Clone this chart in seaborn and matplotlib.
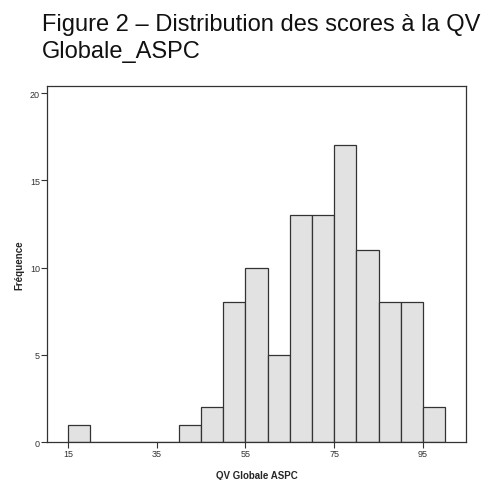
import numpy as np
import pandas as pd
import matplotlib
matplotlib.use("Agg")
import matplotlib.pyplot as plt
import seaborn as sns

# histogram: bin left edges (width 5) and counts
bin_left = [15, 20, 25, 30, 35, 40, 45, 50, 55, 60, 65, 70, 75, 80, 85, 90, 95]
counts = [1, 0, 0, 0, 0, 1, 2, 8, 10, 5, 13, 13, 17, 11, 8, 8, 2]
x_ticks = [15, 35, 55, 75, 95]
y_ticks = [0, 5, 10, 15, 20]

df = pd.DataFrame({"score": np.array(bin_left) + 2.5, "n": counts})
edges = list(bin_left) + [bin_left[-1] + 5]

sns.set_style("white")
plt.rcParams['font.family'] = ['Liberation Sans', 'DejaVu Sans']

fig = plt.figure(figsize=(4.92, 4.81), dpi=100)
ax = fig.add_axes([0.0955, 0.079, 0.852, 0.740])

sns.histplot(data=df, x="score", weights="n", bins=edges, ax=ax,
             color="#e2e2e2", alpha=1, edgecolor="#333333", linewidth=0.9)

ax.set_xlim(10.3, 104.7)
ax.set_ylim(0, 20.4)
ax.set_xticks(x_ticks)
ax.set_yticks(y_ticks)
ax.tick_params(axis="both", direction="out", length=4, width=0.8,
               labelsize=6.5, colors="#333333", pad=1, bottom=True, left=True)
for s in ax.spines.values():
    s.set_color("#333333")
    s.set_linewidth(0.9)

ax.set_xlabel("QV Globale ASPC", fontsize=7, fontweight="bold", labelpad=9)
ax.set_ylabel("Fréquence", fontsize=7, fontweight="bold", labelpad=4)

fig.text(0.085, 0.936, "Figure 2 – Distribution des scores à la QV",
         fontsize=17, va="baseline", color="#111111")
fig.text(0.085, 0.879, "Globale_ASPC",
         fontsize=17, va="baseline", color="#111111")

fig.savefig("out.png", dpi=100)
